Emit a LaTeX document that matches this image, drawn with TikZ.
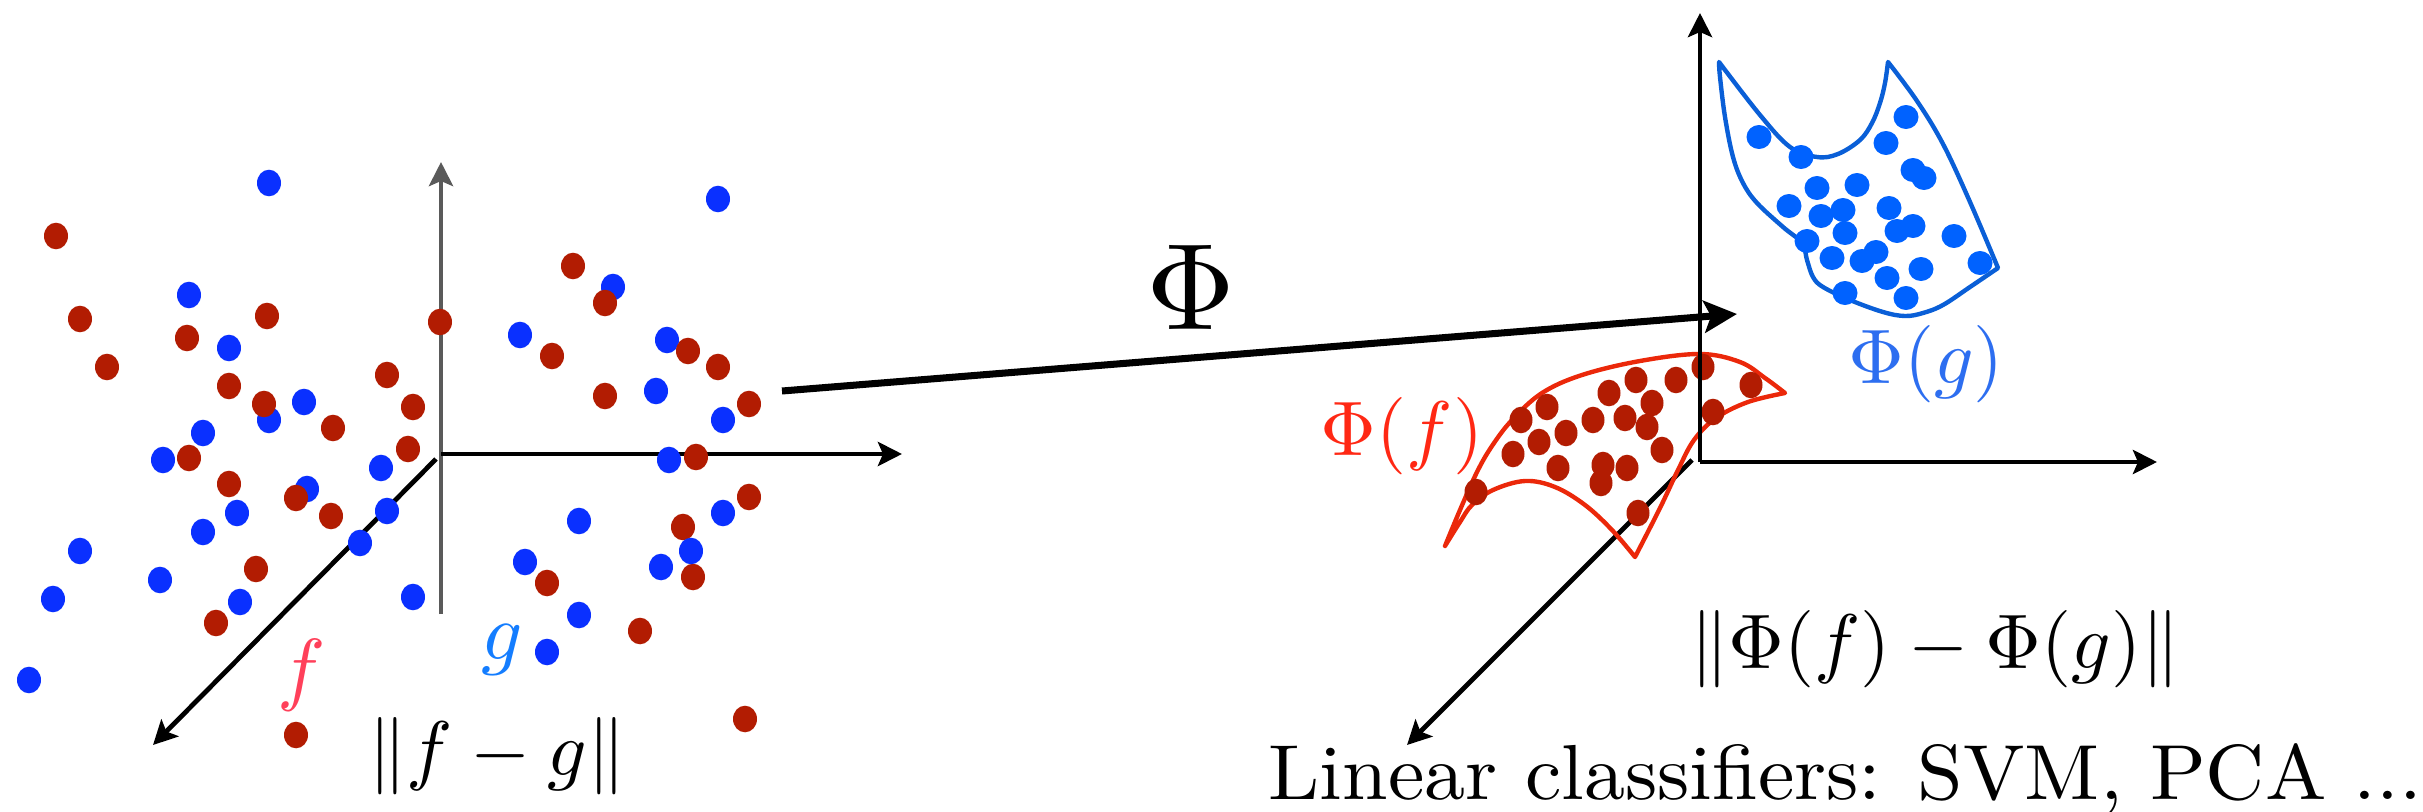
\documentclass[tikz,border=0pt]{standalone}
\usepackage{graphicx}
\usetikzlibrary{arrows.meta}
\definecolor{dotred}{RGB}{178,28,2}
\definecolor{dotblueL}{RGB}{10,48,255}
\definecolor{dotblueR}{RGB}{0,98,255}
\definecolor{redline}{RGB}{235,40,10}
\definecolor{blueline}{RGB}{10,95,215}
\definecolor{fcol}{RGB}{255,64,90}
\definecolor{gcol}{RGB}{20,125,255}
\definecolor{phifcol}{RGB}{255,40,20}
\definecolor{phigcol}{RGB}{45,110,240}
\definecolor{axgray}{RGB}{90,90,90}
\tikzset{
  axisline/.style={line width=1.35pt, -{Stealth[length=0.24cm,width=0.24cm,inset=0.05cm]}},
  maparrow/.style={line width=2pt, -{Stealth[length=0.33cm,width=0.32cm,inset=0.07cm]}},
  lbl/.style={inner sep=0pt, anchor=base},
  surf/.style={line width=1.25pt, line join=round, line cap=round}
}
\begin{document}
\begin{tikzpicture}[x=0.01cm,y=-0.01cm]
\useasboundingbox (0,0) rectangle (2423,812);

% ---------- left axes ----------
\coordinate (LO) at (441,454);
\coordinate (LTop) at (441,162);
\coordinate (LBot) at (441,614);
\coordinate (LX) at (902,454);
\coordinate (LD0) at (436,459);
\coordinate (LD1) at (153,745);
\draw[axisline, draw=axgray] (LBot) -- (LTop);
\draw[axisline] (LO) -- (LX);
\draw[axisline] (LD0) -- (LD1);

% ---------- left dots ----------
\foreach \x/\y in {269/183,718/199,613/287,189/295,520/335,667/340,229/348,656/391,304/402,269/420,723/420,203/433,163/460,669/460,381/468,307/489,387/511,237/513,723/513,579/521,203/532,360/543,80/551,525/562,661/567,160/580,53/599,240/602,413/597,579/615,547/652,29/680}
  \fill[dotblueL] (\x,\y) ellipse [x radius=12, y radius=13.3];
\foreach \x/\y in {56/236,573/266,605/303,80/319,267/316,440/322,187/338,552/356,107/367,688/351,718/367,387/375,229/386,605/396,264/404,413/407,749/404,333/428,408/449,189/458,696/457,229/484,296/498,749/497,331/516,683/527,256/569,693/577,547/583,216/623,640/631,296/735,745/719}
  \fill[dotred] (\x,\y) ellipse [x radius=12, y radius=13.3];
\fill[dotblueL] (691,551) ellipse [x radius=12, y radius=13.3];

% ---------- left labels ----------
\node[lbl, text=fcol] (flab) at (302,695) {\scalebox{2.3}{$f$}};
\node[lbl, text=gcol] (glab) at (502,659) {\scalebox{2.3}{$g$}};
\node[lbl] (normL) at (497,775) {\scalebox{2.2}{$\|f-g\|$}};

% ---------- right axes coordinates ----------
\coordinate (RO) at (1700,462);
\coordinate (RTop) at (1700,13);
\coordinate (RX) at (2157,462);
\coordinate (RD0) at (1692,460);
\coordinate (RD1) at (1407,745);
\draw[axisline] (RD0) -- (RD1);

% ---------- red surface ----------
\draw[surf, draw=redline]
  plot[smooth, tension=0.6] coordinates {(1445,546) (1460,510) (1477,472) (1492,446) (1512,420) (1542,393) (1582,375) (1640,361) (1700,354) (1740,362) (1765,378) (1785,393)}
  -- plot[smooth, tension=0.6] coordinates {(1785,393) (1748,402) (1716,418) (1694,440) (1678,470) (1660,508) (1635,557)}
  -- plot[smooth, tension=0.6] coordinates {(1635,557) (1612,530) (1585,505) (1555,487) (1525,481) (1493,490) (1472,505) (1460,522) (1445,546)}
  -- cycle;
\foreach \x/\y in {1703/367,1676/380,1636/380,1609/393,1751/385,1652/403,1625/418,1647/427,1593/420,1713/412,1547/407,1521/420,1566/433,1539/442,1513/454,1662/450,1558/468,1603/465,1627/468,1601/483,1476/492,1638/513}
  \fill[dotred] (\x,\y) ellipse [x radius=11.5, y radius=13.3];

% ---------- blue surface ----------
\draw[surf, draw=blueline]
  plot[smooth, tension=0.6] coordinates {(1719,62) (1760,115) (1790,147) (1817,157) (1838,154) (1860,140) (1872,123) (1880,103) (1885,83) (1888,62)}
  -- plot[smooth, tension=0.6] coordinates {(1888,62) (1917,101) (1943,144) (1970,202) (1998,268)}
  -- plot[smooth, tension=0.6] coordinates {(1998,268) (1970,287) (1943,305) (1923,313) (1905,316) (1883,312) (1850,300) (1823,287) (1813,277) (1807,260) (1802,243) (1783,227) (1757,203) (1743,183) (1733,157) (1725,117) (1720,77) (1719,62)}
  -- cycle;
\foreach \x/\y in {1759/137,1801/157,1906/117,1886/143,1913/170,1924/178,1817/188,1857/185,1789/206,1843/210,1821/216,1889/208,1845/233,1897/231,1913/226,1807/241,1954/236,1832/258,1862/261,1876/252,1887/278,1921/269,1980/263,1845/293,1906/298}
  \fill[dotblueR] (\x,\y) ellipse [x radius=12.5, y radius=12];

% ---------- right axes ----------
\draw[axisline] (RO) -- (RTop);
\draw[axisline] (RO) -- (RX);

% ---------- mapping arrow ----------
\coordinate (PA0) at (782,391);
\coordinate (PA1) at (1737,314);
\draw[maparrow] (PA0) -- (PA1);
\node[lbl] (phi) at (1191,329) {\scalebox{3.5}{$\Phi$}};

% ---------- right labels ----------
\node[lbl, text=phifcol] (phif) at (1402,455) {\scalebox{2.2}{$\Phi(f)$}};
\node[lbl, text=phigcol] (phig) at (1926,383) {\scalebox{2.2}{$\Phi(g)$}};
\node[lbl] (normR) at (1935,668) {\scalebox{2.2}{$\|\Phi(f)-\Phi(g)\|$}};
\node[lbl, anchor=base west] (lin) at (1268,799) {\scalebox{2.33}[2.22]{Linear classifiers: SVM, PCA ...}};
\end{tikzpicture}
\end{document}
